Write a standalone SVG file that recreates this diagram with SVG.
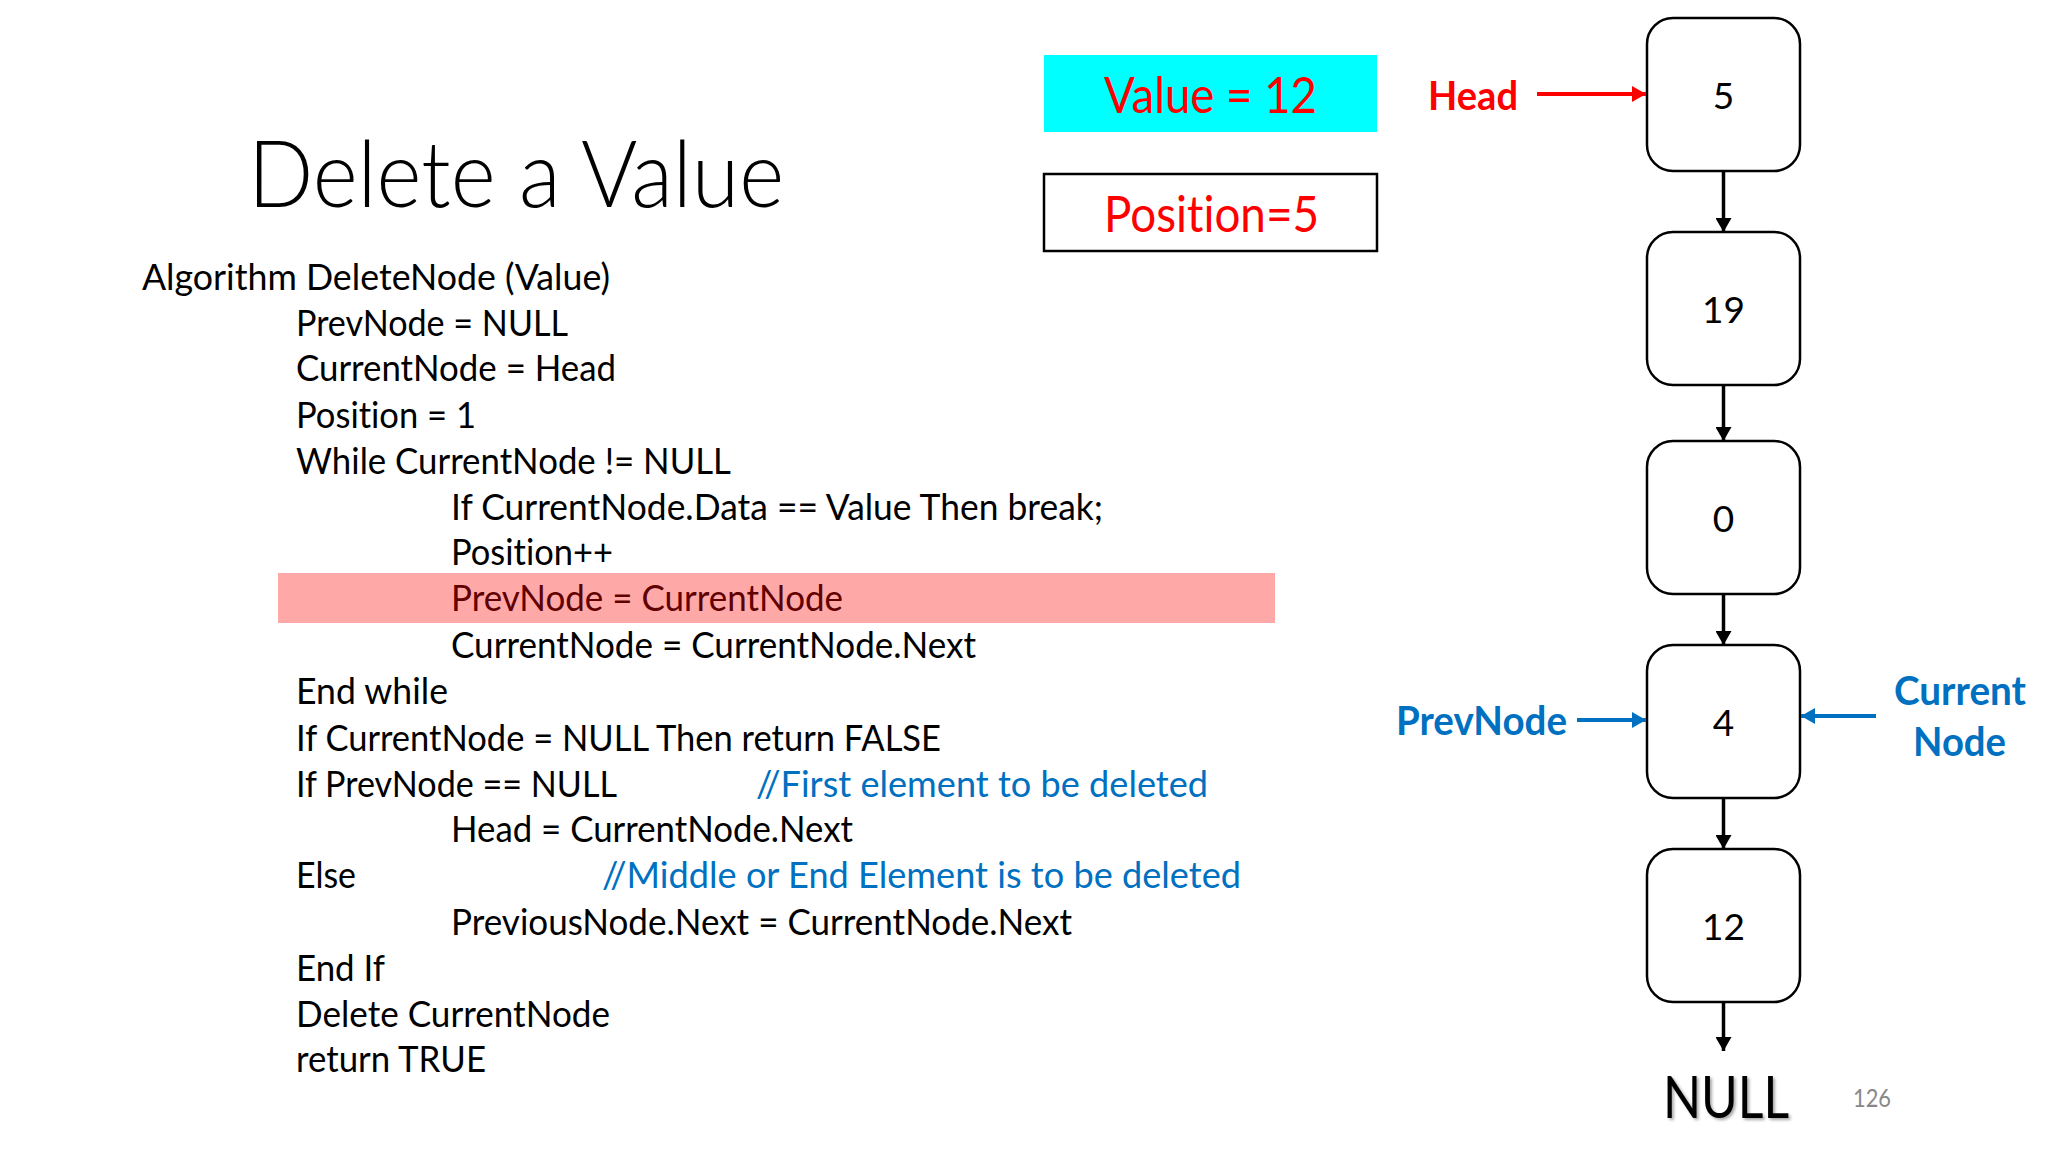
<svg xmlns="http://www.w3.org/2000/svg" width="2048" height="1152" viewBox="0 0 2048 1152">
<defs>
<style>
text{font-variant-ligatures:none;}
.t{font-family:Lato,"Open Sans","Liberation Sans",sans-serif;}
.code{font-family:Lato,"Open Sans","Liberation Sans",sans-serif;font-size:37px;fill:#000;}
.cm{fill:#0070C0;}
.node rect{fill:#fff;stroke:#000;stroke-width:2.5;}
.node text{font-family:Lato,"Open Sans","Liberation Sans",sans-serif;font-size:37px;fill:#000;text-anchor:middle;}
.lbl{font-family:Lato,"Open Sans","Liberation Sans",sans-serif;font-weight:bold;font-size:40px;}
</style>
<marker id="ab" markerUnits="userSpaceOnUse" markerWidth="16" markerHeight="16" refX="14" refY="8" orient="auto"><path d="M0,0 L14,8 L0,16 z" fill="#000"/></marker>
<marker id="ar" markerUnits="userSpaceOnUse" markerWidth="16" markerHeight="16" refX="14" refY="8" orient="auto"><path d="M0,0 L14,8 L0,16 z" fill="#FF0000"/></marker>
<marker id="abl" markerUnits="userSpaceOnUse" markerWidth="16" markerHeight="16" refX="14" refY="8" orient="auto"><path d="M0,0 L14,8 L0,16 z" fill="#0070C0"/></marker>
<filter id="sh" x="-10%" y="-10%" width="130%" height="130%"><feDropShadow dx="2" dy="2" stdDeviation="1.5" flood-color="#000" flood-opacity="0.35"/></filter>
</defs>
<rect width="2048" height="1152" fill="#fff"/>

<g id="title">
<text class="t" x="248" y="207" font-size="92" font-weight="300" textLength="536" lengthAdjust="spacingAndGlyphs">Delete a Value</text>
</g>

<g id="highlight">
<rect x="278" y="573" width="997" height="50" fill="#FFA8A8"/>
</g>

<g id="code">
<text class="code" x="142" y="290" textLength="468" lengthAdjust="spacingAndGlyphs">Algorithm DeleteNode (Value)</text>
<text class="code" x="296" y="336" textLength="272" lengthAdjust="spacingAndGlyphs">PrevNode = NULL</text>
<text class="code" x="296" y="381" textLength="320" lengthAdjust="spacingAndGlyphs">CurrentNode = Head</text>
<text class="code" x="296" y="428" textLength="180" lengthAdjust="spacingAndGlyphs">Position = 1</text>
<text class="code" x="296" y="474" textLength="435" lengthAdjust="spacingAndGlyphs">While CurrentNode != NULL</text>
<text class="code" x="451" y="520" textLength="652" lengthAdjust="spacingAndGlyphs">If CurrentNode.Data == Value Then break;</text>
<text class="code" x="451" y="565" textLength="162" lengthAdjust="spacingAndGlyphs">Position++</text>
<text class="code" x="451" y="611" textLength="392" lengthAdjust="spacingAndGlyphs" style="fill:#600000">PrevNode = CurrentNode</text>
<text class="code" x="451" y="658" textLength="525" lengthAdjust="spacingAndGlyphs">CurrentNode = CurrentNode.Next</text>
<text class="code" x="296" y="704" textLength="152" lengthAdjust="spacingAndGlyphs">End while</text>
<text class="code" x="296" y="751" textLength="645" lengthAdjust="spacingAndGlyphs">If CurrentNode = NULL Then return FALSE</text>
<text class="code" x="296" y="797" textLength="321" lengthAdjust="spacingAndGlyphs">If PrevNode == NULL</text>
<text class="code cm" x="756" y="797" textLength="452" lengthAdjust="spacingAndGlyphs">//First element to be deleted</text>
<text class="code" x="451" y="842" textLength="402" lengthAdjust="spacingAndGlyphs">Head = CurrentNode.Next</text>
<text class="code" x="296" y="888" textLength="60" lengthAdjust="spacingAndGlyphs">Else</text>
<text class="code cm" x="602" y="888" textLength="639" lengthAdjust="spacingAndGlyphs">//Middle or End Element is to be deleted</text>
<text class="code" x="451" y="935" textLength="621" lengthAdjust="spacingAndGlyphs">PreviousNode.Next = CurrentNode.Next</text>
<text class="code" x="296" y="981" textLength="89" lengthAdjust="spacingAndGlyphs">End If</text>
<text class="code" x="296" y="1027" textLength="314" lengthAdjust="spacingAndGlyphs">Delete CurrentNode</text>
<text class="code" x="296" y="1072" textLength="190" lengthAdjust="spacingAndGlyphs">return TRUE</text>
</g>

<g id="value-box">
<rect x="1044" y="55" width="333" height="77" fill="#00FFFF"/>
<text class="t" x="1104" y="113" font-size="50" fill="#FF0000" textLength="213" lengthAdjust="spacingAndGlyphs">Value = 12</text>
</g>
<g id="position-box">
<rect x="1044" y="174" width="333" height="77" fill="#fff" stroke="#000" stroke-width="2.5"/>
<text class="t" x="1104" y="232" font-size="50" fill="#FF0000" textLength="215" lengthAdjust="spacingAndGlyphs">Position=5</text>
</g>

<g id="head-label"><text class="lbl" x="1428" y="110" fill="#FF0000" textLength="90" lengthAdjust="spacingAndGlyphs">Head</text></g>
<g id="prevnode-label"><text class="lbl" x="1396" y="735" fill="#0070C0" textLength="171" lengthAdjust="spacingAndGlyphs">PrevNode</text></g>
<g id="currentnode-label">
<text class="lbl" x="1894" y="705" fill="#0070C0" textLength="132" lengthAdjust="spacingAndGlyphs">Current</text>
<text class="lbl" x="1913" y="756" fill="#0070C0" textLength="93" lengthAdjust="spacingAndGlyphs">Node</text>
</g>

<g id="node-5" class="node"><rect x="1647" y="18" width="153" height="153" rx="26"/><text x="1723.5" y="109">5</text></g>
<g id="node-19" class="node"><rect x="1647" y="232" width="153" height="153" rx="26"/><text x="1723.5" y="323">19</text></g>
<g id="node-0" class="node"><rect x="1647" y="441" width="153" height="153" rx="26"/><text x="1723.5" y="532">0</text></g>
<g id="node-4" class="node"><rect x="1647" y="645" width="153" height="153" rx="26"/><text x="1723.5" y="736">4</text></g>
<g id="node-12" class="node"><rect x="1647" y="849" width="153" height="153" rx="26"/><text x="1723.5" y="940">12</text></g>

<g id="null-label"><text class="t" x="1726" y="1118" font-size="58" text-anchor="middle" filter="url(#sh)" textLength="126" lengthAdjust="spacingAndGlyphs">NULL</text></g>
<g id="page-number"><text class="t" x="1853" y="1107" font-size="25" fill="#888" textLength="38" lengthAdjust="spacingAndGlyphs">126</text></g>

<g id="connectors" fill="none">
<line x1="1537" y1="94" x2="1646" y2="94" stroke="#FF0000" stroke-width="4" marker-end="url(#ar)"/>
<line x1="1577" y1="720" x2="1646" y2="720" stroke="#0070C0" stroke-width="4" marker-end="url(#abl)"/>
<line x1="1876" y1="716" x2="1801" y2="716" stroke="#0070C0" stroke-width="4" marker-end="url(#abl)"/>
<line x1="1723.5" y1="171" x2="1723.5" y2="232" stroke="#000" stroke-width="3.5" marker-end="url(#ab)"/>
<line x1="1723.5" y1="385" x2="1723.5" y2="441" stroke="#000" stroke-width="3.5" marker-end="url(#ab)"/>
<line x1="1723.5" y1="594" x2="1723.5" y2="645" stroke="#000" stroke-width="3.5" marker-end="url(#ab)"/>
<line x1="1723.5" y1="798" x2="1723.5" y2="849" stroke="#000" stroke-width="3.5" marker-end="url(#ab)"/>
<line x1="1723.5" y1="1002" x2="1723.5" y2="1051" stroke="#000" stroke-width="3.5" marker-end="url(#ab)"/>
</g>
</svg>
